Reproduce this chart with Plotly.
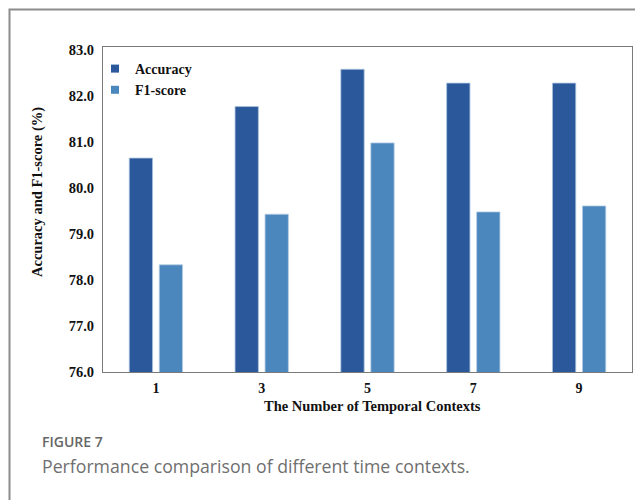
import plotly.graph_objects as go

# ---- data ----
contexts = ["1", "3", "5", "7", "9"]
accuracy = [80.65, 81.77, 82.58, 82.28, 82.28]
f1_score = [78.33, 79.43, 80.98, 79.48, 79.61]
y_ticks = [76.0, 77.0, 78.0, 79.0, 80.0, 81.0, 82.0, 83.0]

ACC_COLOR = "#2a589b"
F1_COLOR = "#4b86bc"
SERIF = "Liberation Serif, Times New Roman, serif"

# page body has an 8px margin: work in screen pixels and convert
OFF = 8
W, H = 643, 500
PLOT_L, PLOT_R, PLOT_T, PLOT_B = 103, 632, 47, 372  # screen pixels
L = PLOT_L - OFF
T = PLOT_T - OFF
R = W - (PLOT_R - OFF)
B = H - (PLOT_B - OFF)
PW, PH = PLOT_R - PLOT_L, PLOT_B - PLOT_T


def px_x(p):
    return (p - PLOT_L) / PW


def px_y(p):
    return (PLOT_B - p) / PH


fig = go.Figure()
fig.add_trace(go.Bar(x=contexts, y=accuracy, name="Accuracy", showlegend=False,
                     marker=dict(color=ACC_COLOR, line=dict(color="#a9c1de", width=0.8))))
fig.add_trace(go.Bar(x=contexts, y=f1_score, name="F1-score", showlegend=False,
                     marker=dict(color=F1_COLOR, line=dict(color="#b5cde6", width=0.8))))
# legend entries (small square markers)
fig.add_trace(go.Scatter(x=[None], y=[None], mode="markers", name="Accuracy",
                         marker=dict(symbol="square", size=8, color=ACC_COLOR)))
fig.add_trace(go.Scatter(x=[None], y=[None], mode="markers", name="F1-score",
                         marker=dict(symbol="square", size=8, color=F1_COLOR)))

fig.update_layout(
    width=W, height=H,
    margin=dict(l=L, r=R, t=T, b=B, autoexpand=False),
    paper_bgcolor="white", plot_bgcolor="white",
    barmode="group", bargap=0.433, bargroupgap=0.223,
    font=dict(family=SERIF, size=14, color="#111111"),
    legend=dict(x=px_x(95), y=px_y(53), xanchor="left", yanchor="top",
                bgcolor="rgba(0,0,0,0)", borderwidth=0,
                font=dict(family=SERIF, size=14, color="#111111", weight="bold"),
                tracegroupgap=0),
    showlegend=True,
)

fig.update_xaxes(type="category", showline=True, mirror=True, linecolor="#7a7a7a",
                 linewidth=1, showgrid=False, ticks="", zeroline=False,
                 tickfont=dict(family=SERIF, size=14, weight="bold", color="#111111"),
                 ticklabelstandoff=3)
fig.update_yaxes(range=[76, 83.065], showline=True, mirror=True, linecolor="#7a7a7a",
                 linewidth=1, showgrid=False, ticks="", zeroline=False,
                 tickvals=y_ticks, ticktext=[f"{v:.1f}" for v in y_ticks],
                 tickfont=dict(family=SERIF, size=14.5, weight="bold", color="#111111"),
                 ticklabelstandoff=5)

# axis titles
fig.add_annotation(text="Accuracy and F1-score (%)", xref="paper", yref="paper",
                   x=px_x(37), y=px_y(192), textangle=-90, showarrow=False,
                   xanchor="center", yanchor="middle",
                   font=dict(family=SERIF, size=14.5, weight="bold", color="#111111"))
fig.add_annotation(text="The Number of Temporal Contexts", xref="paper", yref="paper",
                   x=px_x(372), y=px_y(406), showarrow=False,
                   xanchor="center", yanchor="middle",
                   font=dict(family=SERIF, size=14.5, weight="bold", color="#111111"))

# caption
fig.add_annotation(text="FIGURE 7", xref="paper", yref="paper",
                   x=px_x(40), y=px_y(441), showarrow=False,
                   xanchor="left", yanchor="middle",
                   font=dict(family="Open Sans, sans-serif", size=14, color="#666666", weight=600))
fig.add_annotation(text="Performance comparison of different time contexts.",
                   xref="paper", yref="paper",
                   x=px_x(40), y=px_y(466), showarrow=False,
                   xanchor="left", yanchor="middle",
                   font=dict(family="Open Sans, sans-serif", size=17.7, color="#6f6f6f"))

# outer frame
fig.add_shape(type="rect", xref="paper", yref="paper",
              x0=px_x(9.5), x1=px_x(680), y0=px_y(540), y1=px_y(9.5),
              line=dict(color="#8c8c8c", width=2), fillcolor="rgba(0,0,0,0)", layer="below")

fig.write_html("out.html")
